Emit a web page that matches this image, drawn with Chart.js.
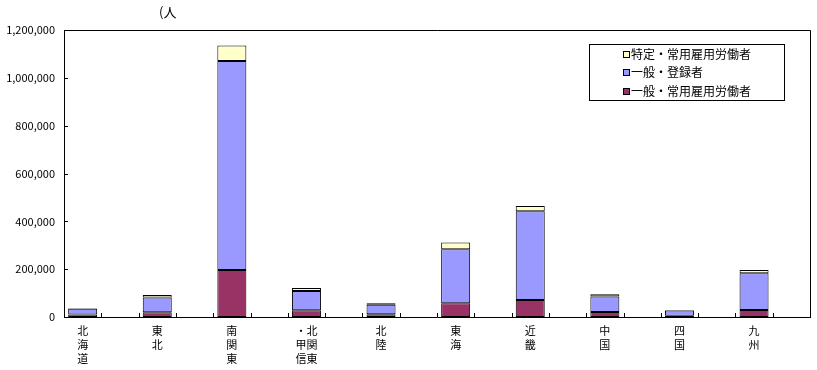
<!DOCTYPE html>
<html>
<head>
<meta charset="utf-8">
<script src="https://cdn.jsdelivr.net/npm/chart.js@4.4.0/dist/chart.umd.min.js"></script>
<style>
  body { margin: 0; background: #fff; }
  #wrap { width: 817px; height: 370px; }
</style>
</head>
<body>
<div id="wrap"><canvas id="myChart" width="817" height="370"></canvas></div>
<script>
// regions, written vertically (one line per row)
const regions = [
  ["北", "海", "道"],
  ["東", "北"],
  ["南", "関", "東"],
  ["・北", "甲関", "信東"],
  ["北", "陸"],
  ["東", "海"],
  ["近", "畿"],
  ["中", "国"],
  ["四", "国"],
  ["九", "州"]
];
// 一般・常用雇用労働者
const ippanJoyo = [10000, 20000, 196000, 28000, 12000, 57000, 71000, 21000, 5000, 29000];
// 一般・登録者
const ippanToroku = [25000, 62000, 874000, 81000, 39000, 226000, 371000, 65000, 22000, 154000];
// 特定・常用雇用労働者
const tokutei = [1500, 10000, 65000, 12000, 7000, 29000, 22000, 9000, 2000, 14000];
const yTicks = [0, 200000, 400000, 600000, 800000, 1000000, 1200000];
const seriesNames = ["一般・常用雇用労働者", "一般・登録者", "特定・常用雇用労働者"];
const seriesColors = ["#993366", "#9999ff", "#ffffcc"];

const FONT = "'Noto Sans CJK JP', 'Noto Sans', sans-serif";

// every region sits in its own slot, with an empty slot after it
const spread = (arr, empty) => {
  const out = [];
  arr.forEach((v) => { out.push(v); out.push(empty); });
  return out;
};
const labels = spread(regions, "");

const dataSets = [ippanJoyo, ippanToroku, tokutei].map((arr, i) => ({
  label: seriesNames[i],
  data: spread(arr, null),
  backgroundColor: seriesColors[i],
  borderColor: "#000",
  borderWidth: 1,
  borderSkipped: false,
  inflateAmount: 0,
  barThickness: 29
}));

// box, inner ticks, legend and unit text
const extras = {
  id: "extras",
  afterDraw(chart) {
    const ctx = chart.ctx;
    const area = chart.chartArea;
    const xs = chart.scales.x;
    const ys = chart.scales.y;
    ctx.save();
    ctx.strokeStyle = "#000";
    ctx.lineWidth = 1;
    ctx.beginPath();
    ctx.moveTo(area.left, Math.round(area.top) + 0.5);
    ctx.lineTo(Math.round(area.right) + 0.5, Math.round(area.top) + 0.5);
    ctx.lineTo(Math.round(area.right) + 0.5, area.bottom);
    // y ticks pointing inside
    yTicks.forEach((v) => {
      const y = Math.round(ys.getPixelForValue(v)) + 0.5;
      ctx.moveTo(area.left, y);
      ctx.lineTo(area.left + 4, y);
    });
    // x ticks on slot boundaries
    const step = xs.getPixelForValue(1) - xs.getPixelForValue(0);
    for (let i = 1; i < labels.length; i++) {
      const x = Math.round(xs.getPixelForValue(i) - step / 2) + 0.5;
      ctx.moveTo(x, area.bottom);
      ctx.lineTo(x, area.bottom - 4);
    }
    ctx.stroke();

    // legend
    ctx.strokeRect(589.5, 44.5, 195, 56);
    const rows = [54, 72, 91];
    ctx.font = "12px " + FONT;
    ctx.textBaseline = "middle";
    ctx.textAlign = "left";
    [2, 1, 0].forEach((k, r) => {
      ctx.fillStyle = seriesColors[k];
      ctx.fillRect(623, rows[r] - 3, 7, 7);
      ctx.strokeRect(623.5, rows[r] - 3 + 0.5, 6, 6);
      ctx.fillStyle = "#000";
      ctx.fillText(seriesNames[k], 631, rows[r]);
    });

    // unit
    ctx.font = "13px " + FONT;
    ctx.fillText("(人", 159, 12);
    ctx.restore();
  }
};

new Chart(document.getElementById("myChart"), {
  type: "bar",
  data: { labels: labels, datasets: dataSets },
  options: {
    responsive: false,
    animation: false,
    devicePixelRatio: 1,
    layout: { padding: { top: 30, right: 7, left: 0, bottom: 0 } },
    plugins: { legend: { display: false }, tooltip: { enabled: false } },
    scales: {
      x: {
        stacked: true,
        offset: true,
        grid: { display: false, drawTicks: false },
        border: { display: true, color: "#000", width: 1 },
        ticks: {
          autoSkip: false,
          maxRotation: 0,
          padding: 7,
          color: "#000",
          font: { family: FONT, size: 11, lineHeight: 1.25 }
        },
        afterFit(scale) { scale.height = 53; }
      },
      y: {
        stacked: true,
        min: 0,
        max: 1200000,
        afterBuildTicks(scale) { scale.ticks = yTicks.map((v) => ({ value: v })); },
        grid: { display: false, drawTicks: false },
        border: { display: true, color: "#000", width: 1 },
        ticks: {
          padding: 9,
          color: "#000",
          font: { family: FONT, size: 11 },
          callback: (v) => Number(v).toLocaleString("en-US")
        },
        afterFit(scale) { scale.width = 64; }
      }
    }
  },
  plugins: [extras]
});
</script>
</body>
</html>
